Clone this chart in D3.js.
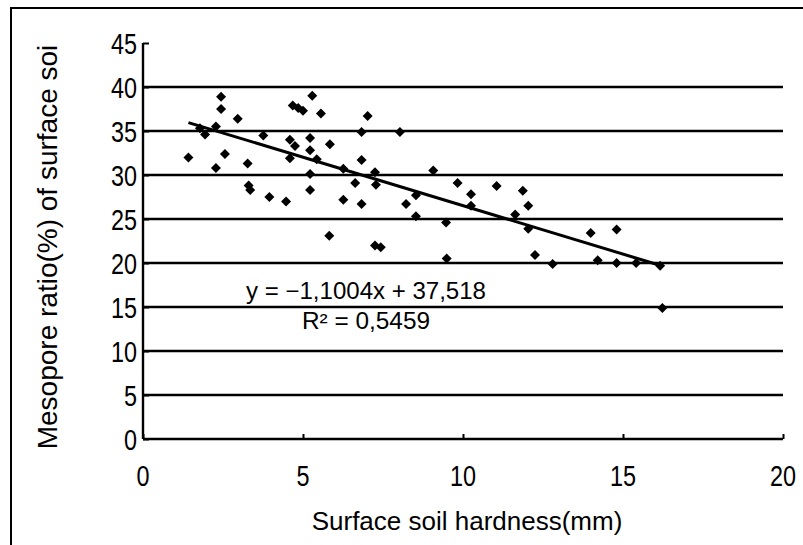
<!DOCTYPE html>
<html>
<head>
<meta charset="utf-8">
<script src="https://cdn.jsdelivr.net/npm/d3@7"></script>
<style>
  body { margin: 0; background: #fff; }
  svg { display: block; }
  .tick-label { font-family: "Liberation Sans", Arial, sans-serif; font-size: 30px; fill: #000; }
  .title { font-family: "Liberation Sans", Arial, sans-serif; fill: #000; }
  .eq { font-family: "Liberation Sans", Arial, sans-serif; font-size: 23px; fill: #000; }
</style>
</head>
<body>
<svg id="chart"></svg>
<script>
// surface soil hardness (mm) per sample
const hardness = [
  2.44, 2.44, 2.96, 1.78, 2.28, 1.94, 3.76, 1.42, 2.56, 2.28, 3.27, 3.30, 3.35, 3.95,
  5.29, 4.68, 4.85, 5.00, 5.56, 7.02, 6.83, 8.03, 4.59, 4.75, 5.22, 5.22, 5.84, 4.59,
  5.43, 6.83, 5.22, 6.26, 6.63, 7.25, 7.28, 5.22, 4.47, 6.26, 6.83, 5.82, 7.25, 7.43,
  9.07, 9.83, 10.25, 11.05, 11.87, 12.04, 8.53, 8.22, 8.53, 10.25, 9.47, 11.63, 12.04,
  9.49, 12.25, 12.80, 13.99, 14.80, 14.21, 14.80, 15.41, 16.16, 16.23
];
// mesopore ratio (%) of surface soil per sample
const mesopore = [
  38.9, 37.5, 36.4, 35.3, 35.5, 34.6, 34.5, 32.0, 32.4, 30.8, 31.3, 28.8, 28.3, 27.5,
  39.0, 37.9, 37.6, 37.3, 37.0, 36.7, 34.9, 34.9, 34.0, 33.3, 34.2, 32.8, 33.5, 31.9,
  31.8, 31.7, 30.1, 30.7, 29.1, 30.3, 28.9, 28.3, 27.0, 27.2, 26.7, 23.1, 22.0, 21.8,
  30.5, 29.1, 27.8, 28.75, 28.2, 26.5, 27.7, 26.7, 25.3, 26.5, 24.6, 25.5, 23.9,
  20.5, 20.9, 19.9, 23.4, 23.8, 20.3, 20.0, 20.0, 19.7, 14.9
];

const xTicks = [0, 5, 10, 15, 20];
const yTicks = [0, 5, 10, 15, 20, 25, 30, 35, 40, 45];

// linear trendline from the chart
const slope = -1.1004;
const intercept = 37.518;
const trendRange = [1.42, 16.2];
const eqLines = ["y = \u22121,1004x + 37,518", "R\u00B2 = 0,5459"];

const width = 803;
const height = 545;
const margin = {left: 143, top: 43, right: 20, bottom: 106};
// the original lettering is tall and narrow
const squeeze = 0.78;

const svg = d3.select('#chart')
  .attr('width', width)
  .attr('height', height);

const xScale = d3.scaleLinear().domain([0, 20]).range([margin.left, width - margin.right]);
const yScale = d3.scaleLinear().domain([0, 45]).range([height - margin.bottom, margin.top]);

// outer frame (only top and left edges show in the picture)
svg.append('path')
  .attr('d', 'M11,' + height + ' V8 H' + width)
  .attr('fill', 'none')
  .attr('stroke', '#000')
  .attr('stroke-width', 2);

// horizontal gridlines
svg.append('g')
  .selectAll('line')
  .data(yTicks.filter(d => d > 0 && d < 45))
  .join('line')
  .attr('x1', xScale(0))
  .attr('x2', xScale(20))
  .attr('y1', d => yScale(d))
  .attr('y2', d => yScale(d))
  .attr('stroke', '#000')
  .attr('stroke-width', 2.4);

// axes, ticks pointing into the plot
const xAxis = d3.axisTop(xScale).tickValues(xTicks).tickSize(5).tickFormat('');
const yAxis = d3.axisRight(yScale).tickValues(yTicks).tickSize(6).tickFormat('');

const gX = svg.append('g')
  .attr('transform', 'translate(0,' + yScale(0) + ')')
  .call(xAxis);
const gY = svg.append('g')
  .attr('transform', 'translate(' + xScale(0) + ',0)')
  .call(yAxis);

[gX, gY].forEach(g => {
  g.select('.domain').attr('stroke', '#000').attr('stroke-width', 2.4);
  g.selectAll('.tick line').attr('stroke', '#000').attr('stroke-width', 2);
});
gX.select('.domain').attr('d', 'M' + xScale(0) + ',0H' + xScale(20));
gY.select('.domain').attr('d', 'M0,' + yScale(45) + 'V' + yScale(0));

// tick labels
svg.append('g')
  .selectAll('text')
  .data(xTicks)
  .join('text')
  .attr('class', 'tick-label')
  .attr('transform', d => 'translate(' + xScale(d) + ',' + (yScale(0) + 47) + ') scale(' + squeeze + ',1)')
  .attr('text-anchor', 'middle')
  .text(d => d);

svg.append('g')
  .selectAll('text')
  .data(yTicks)
  .join('text')
  .attr('class', 'tick-label')
  .attr('transform', d => 'translate(' + (xScale(0) - 6) + ',' + (yScale(d) + 11) + ') scale(' + squeeze + ',1)')
  .attr('text-anchor', 'end')
  .text(d => d);

// trendline
svg.append('line')
  .attr('x1', xScale(trendRange[0]))
  .attr('y1', yScale(slope * trendRange[0] + intercept))
  .attr('x2', xScale(trendRange[1]))
  .attr('y2', yScale(slope * trendRange[1] + intercept))
  .attr('stroke', '#000')
  .attr('stroke-width', 3);

// points: black diamonds
const points = hardness.map((h, i) => ({x: h, y: mesopore[i]}));
const diamond = d3.symbol().type(d3.symbolSquare).size(50);
svg.append('g')
  .selectAll('path')
  .data(points)
  .join('path')
  .attr('d', diamond)
  .attr('transform', d => 'translate(' + xScale(d.x) + ',' + yScale(d.y) + ') rotate(45)')
  .attr('fill', '#000');

// equation text, two centred lines fitted to the width they take in the picture
const eqPos = [{y: 299, w: 240}, {y: 329, w: 128}];
svg.append('g')
  .selectAll('text')
  .data(eqLines)
  .join('text')
  .attr('class', 'eq')
  .attr('x', 366)
  .attr('y', (d, i) => eqPos[i].y)
  .attr('text-anchor', 'middle')
  .attr('textLength', (d, i) => eqPos[i].w)
  .attr('lengthAdjust', 'spacingAndGlyphs')
  .text(d => d);

// axis titles
svg.append('text')
  .attr('class', 'title')
  .attr('x', 467)
  .attr('y', 530)
  .attr('text-anchor', 'middle')
  .style('font-size', '26px')
  .text('Surface soil hardness(mm)');

svg.append('text')
  .attr('class', 'title')
  .attr('transform', 'translate(57,247) rotate(-90)')
  .attr('text-anchor', 'middle')
  .style('font-size', '28px')
  .text('Mesopore ratio(%) of surface soi');
</script>
</body>
</html>
